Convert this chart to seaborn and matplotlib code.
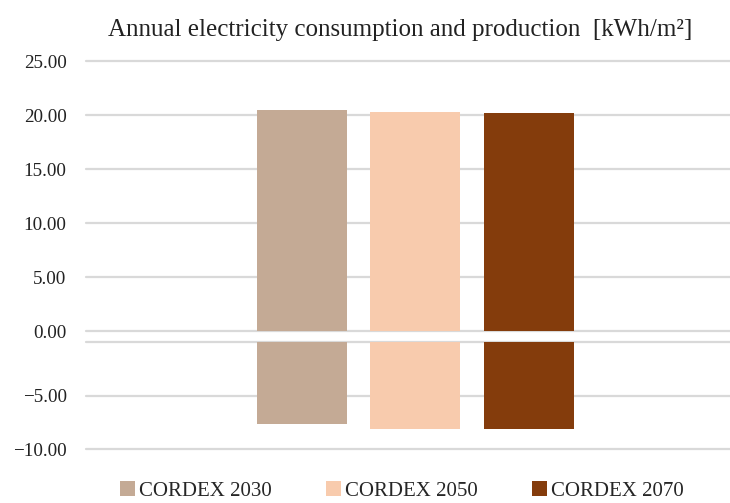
import matplotlib
matplotlib.use("Agg")
import matplotlib.pyplot as plt
import seaborn as sns
from matplotlib.patches import Patch
from matplotlib.ticker import FuncFormatter

# data
scenarios = ["CORDEX 2030", "CORDEX 2050", "CORDEX 2070"]
consumption = [20.46, 20.25, 20.19]
production = [-7.66, -8.13, -8.13]
colors = ["#C4AA95", "#F8CBAD", "#843C0C"]
top_ticks = [0, 5, 10, 15, 20, 25]
bottom_ticks = [-10, -5]

sns.set_style("white")
plt.rcParams["font.family"] = ["Liberation Serif", "DejaVu Serif"]


def fmt(v, pos):
    return f"{v:.2f}".replace("-", "\u2212")


fig = plt.figure(figsize=(7.3, 5.03), dpi=100)
ax_top = fig.add_axes([86/730, 1 - 331/503, 1 - 86/730, 270/503])
ax_bot = fig.add_axes([86/730, 1 - 449/503, 1 - 86/730, 107/503])

grid_color = "#D9D9D9"
for ax, vals, ticks, lim in [(ax_top, consumption, top_ticks, (0, 25)),
                             (ax_bot, production, bottom_ticks, (-10, 0))]:
    ax.set_axisbelow(True)
    sns.barplot(x=scenarios, y=vals, hue=scenarios, palette=colors,
                width=0.79, legend=False, ax=ax, saturation=1,
                edgecolor="none", linewidth=0)
    ax.set_ylim(*lim)
    ax.set_xlim(-1.897, 3.767)
    ax.set_yticks(ticks)
    ax.yaxis.set_major_formatter(FuncFormatter(fmt))
    ax.set_xticks([])
    ax.set_xlabel("")
    ax.set_ylabel("")
    for s in ax.spines.values():
        s.set_visible(False)
    ax.tick_params(axis="y", length=0, pad=14, labelsize=13.8, labelcolor="#222222")
    for t in ticks:
        ax.axhline(t, color=grid_color, lw=1.6, zorder=0.5, clip_on=False)
ax_bot.axhline(0, color=grid_color, lw=1.6, zorder=0.5, clip_on=False)

fig.text(400/730, 1 - 30/503,
         "Annual electricity consumption and production  [kWh/m\u00b2]",
         ha="center", va="center", fontsize=18, color="#222222")

handles = [Patch(facecolor=c, edgecolor="none", label=s) for c, s in zip(colors, scenarios)]
fig.legend(handles=handles, loc="center", bbox_to_anchor=(402/730, 1 - 491/503),
           ncol=3, frameon=False, fontsize=15, handlelength=0.72, handleheight=0.72,
           handletextpad=0.2, columnspacing=2.6, borderpad=0, borderaxespad=0)

fig.savefig("out.png", dpi=100)
